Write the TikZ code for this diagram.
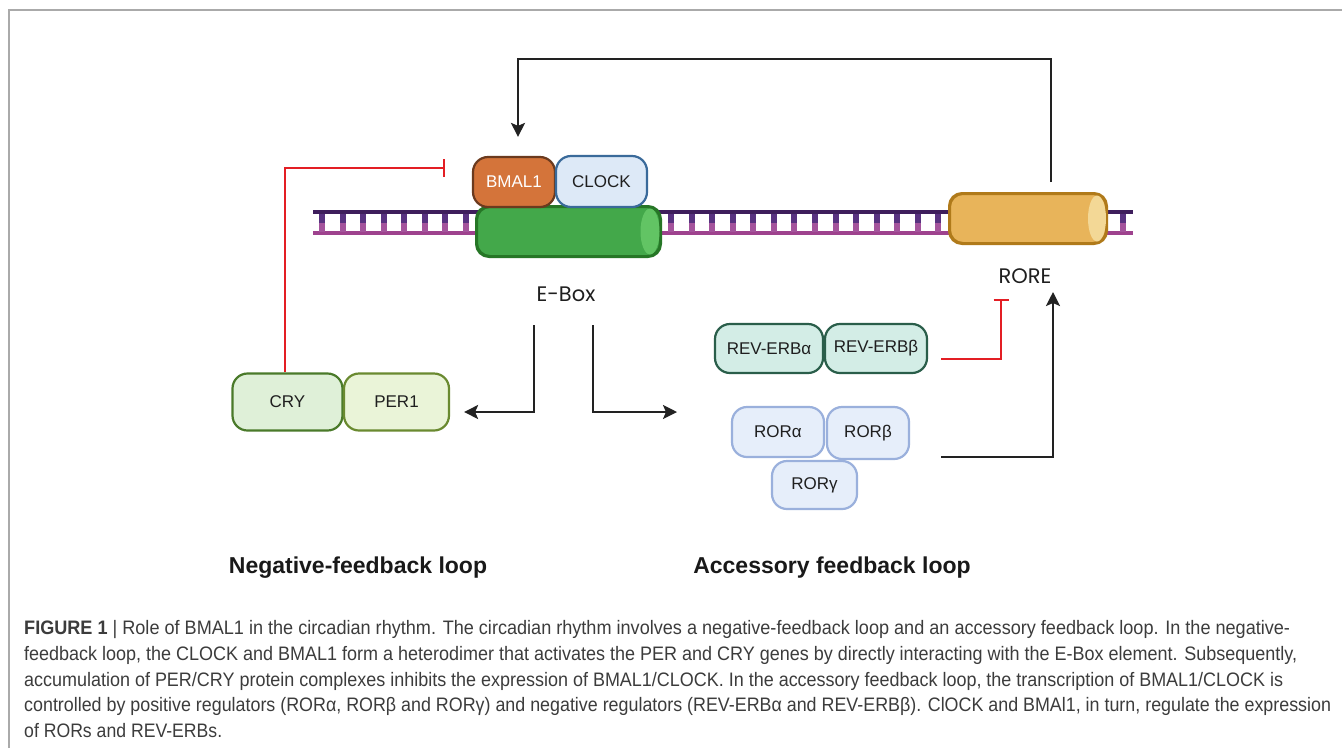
\documentclass[tikz,border=0pt]{standalone}
\usepackage{fontspec}
\usepackage{graphicx}
\setmainfont{Liberation Sans}
\newfontfamily\labfont{Poppins}
\usetikzlibrary{arrows.meta,calc}
\definecolor{framegray}{RGB}{170,170,170}
\definecolor{strandtop}{RGB}{62,30,92}
\definecolor{strandbot}{RGB}{158,66,142}
\definecolor{rungtop}{RGB}{88,50,128}
\definecolor{rungbot}{RGB}{164,84,156}
\definecolor{eboxfill}{RGB}{67,168,74}
\definecolor{eboxdraw}{RGB}{38,118,38}
\definecolor{eboxend}{RGB}{98,196,100}
\definecolor{rorefill}{RGB}{232,180,90}
\definecolor{roredraw}{RGB}{176,122,26}
\definecolor{roreend}{RGB}{243,216,150}
\definecolor{bmalfill}{RGB}{212,116,58}
\definecolor{bmaldraw}{RGB}{107,58,30}
\definecolor{clockfill}{RGB}{221,233,247}
\definecolor{clockdraw}{RGB}{58,106,154}
\definecolor{cryfill}{RGB}{223,240,216}
\definecolor{crydraw}{RGB}{74,122,42}
\definecolor{perfill}{RGB}{234,244,216}
\definecolor{perdraw}{RGB}{106,138,48}
\definecolor{revfill}{RGB}{211,237,230}
\definecolor{revdraw}{RGB}{42,94,74}
\definecolor{rorfill}{RGB}{230,238,250}
\definecolor{rordraw}{RGB}{154,176,220}
\definecolor{inhred}{RGB}{227,30,36}
\definecolor{arrblack}{RGB}{34,34,34}
\definecolor{captext}{RGB}{60,60,60}
\newsavebox\capbox
\newcommand\fitline[2]{\sbox\capbox{#2}\pgfmathsetmacro\capsx{#1/\the\wd\capbox}\scalebox{\capsx}[1]{\usebox\capbox}}
\begin{document}
\begin{tikzpicture}[x=1pt,y=-1pt,
  prot/.style={rectangle, rounded corners=15pt, line width=2.2pt, inner sep=0pt,
    font=\fontsize{17}{20}\selectfont, text=black!88},
  act/.style={draw=arrblack, line width=2.2pt, -{Stealth[length=14pt,width=14pt,inset=3pt]}},
  inhib/.style={draw=inhred, line width=2pt, -{Bar[width=18pt]}},
  lbl/.style={font=\labfont\fontsize{21}{25}\selectfont, text=black!88},
  ttl/.style={font=\bfseries\fontsize{23}{28}\selectfont, text=black!90},
  capl/.style={anchor=base west, inner sep=0pt, font=\fontsize{19.5}{23}\selectfont, text=captext}]
\useasboundingbox (0,0) rectangle (1342,748);
\fill[white] (0,0) rectangle (1342,748);
\draw[framegray, line width=1.5pt] (9,748) -- (9,10) -- (1342,10);
% DNA ladder
\draw[strandtop, line width=3.5pt] (313,212) -- (1133,212);
\draw[strandbot, line width=3.5pt] (313,233) -- (1133,233);
\foreach \i in {0,...,39} {
  \pgfmathsetmacro\xx{322+\i*20.54}
  \fill[rungtop] (\xx-3,213.5) rectangle (\xx+3,222.5);
  \fill[rungbot] (\xx-3,222.5) rectangle (\xx+3,231.5);
}
% E-Box cylinder
\node[rectangle, rounded corners=13pt, minimum width=183pt, minimum height=49pt, inner sep=0pt,
  fill=eboxfill, draw=eboxdraw, line width=2pt] (ebox) at (568.5,231.5) {};
\fill[eboxend] ($(ebox.east)+(-11,0)$) ellipse [x radius=9.5pt, y radius=23pt];
\draw[eboxdraw, line width=2pt, rounded corners=13pt] (ebox.north west) rectangle (ebox.south east);
% RORE cylinder
\node[rectangle, rounded corners=13pt, minimum width=156pt, minimum height=49pt, inner sep=0pt,
  fill=rorefill, draw=roredraw, line width=2pt] (rore) at (1028,218.5) {};
\fill[roreend] ($(rore.east)+(-10,0)$) ellipse [x radius=9pt, y radius=23pt];
\draw[roredraw, line width=2pt, rounded corners=13pt] (rore.north west) rectangle (rore.south east);
% proteins
\node[prot, fill=bmalfill, draw=bmaldraw, text=white, minimum width=82pt, minimum height=50pt] (bmal) at (514,182) {BMAL1};
\node[prot, fill=clockfill, draw=clockdraw, minimum width=91pt, minimum height=51pt] (clock) at (601.5,181.5) {CLOCK};
\node[prot, fill=cryfill, draw=crydraw, minimum width=110pt, minimum height=57pt] (cry) at (287.5,402) {CRY};
\node[prot, fill=perfill, draw=perdraw, minimum width=105pt, minimum height=57pt] (per1) at (396.5,402) {PER1};
\node[prot, fill=revfill, draw=revdraw, minimum width=108pt, minimum height=49pt] (reverba) at (769,348.5) {REV-ERBα};
\node[prot, fill=revfill, draw=revdraw, minimum width=102pt, minimum height=49pt] (reverbb) at (876,348.5) {REV-ERBβ};
\node[prot, fill=rorfill, draw=rordraw, minimum width=92pt, minimum height=50pt] (rora) at (778,432) {RORα};
\node[prot, fill=rorfill, draw=rordraw, minimum width=82pt, minimum height=52pt] (rorb) at (868,433) {RORβ};
\node[prot, fill=rorfill, draw=rordraw, minimum width=85pt, minimum height=48pt] (rorg) at (814.5,485) {RORγ};
% labels
\node[lbl] (eboxlbl) at (566,294) {E-Box};
\node[lbl] (rorelbl) at (1025,276) {RORE};
\node[ttl] (negt) at (358,568) {Negative-feedback loop};
\node[ttl] (acct) at (832,568) {Accessory feedback loop};
% connectors
\draw[act] ($(rore.north)+(23,-11)$) |- ($(bmal.north)+(4,-97)$) -- ($(bmal.north)+(4,-19)$);
\draw[inhib] ($(cry.north)+(-2.5,0)$) |- ($(bmal.west)+(-27,-14)$);
\coordinate (eb1) at (534,325);
\coordinate (eb2) at (593,325);
\coordinate (ebr) at (677,412);
\draw[act] (eb1) |- ($(per1.east)+(14,10)$);
\draw[act] (eb2) |- (ebr);
\coordinate (revt) at (1001,299);
\draw[inhib, -{Bar[width=15pt]}] ($(reverbb.east)+(13,10.5)$) -| (revt);
\coordinate (rort) at (1053,292);
\draw[act] ($(rorb.east)+(31,24)$) -| (rort);
% caption
\node[capl] (cap1) at (24,634) {\fitline{1266}{\textbf{FIGURE 1} | Role of BMAL1 in the circadian rhythm. The circadian rhythm involves a negative-feedback loop and an accessory feedback loop. In the negative-}};
\node[capl] (cap2) at (24,660) {\fitline{1273}{feedback loop, the CLOCK and BMAL1 form a heterodimer that activates the PER and CRY genes by directly interacting with the E-Box element. Subsequently,}};
\node[capl] (cap3) at (24,686) {\fitline{1259}{accumulation of PER/CRY protein complexes inhibits the expression of BMAL1/CLOCK. In the accessory feedback loop, the transcription of BMAL1/CLOCK is}};
\node[capl] (cap4) at (24,711.5) {\fitline{1307}{controlled by positive regulators (RORα, RORβ and RORγ) and negative regulators (REV-ERBα and REV-ERBβ). ClOCK and BMAl1, in turn, regulate the expression}};
\node[capl] (cap5) at (24,737) {\fitline{198}{of RORs and REV-ERBs.}};
\end{tikzpicture}
\end{document}
